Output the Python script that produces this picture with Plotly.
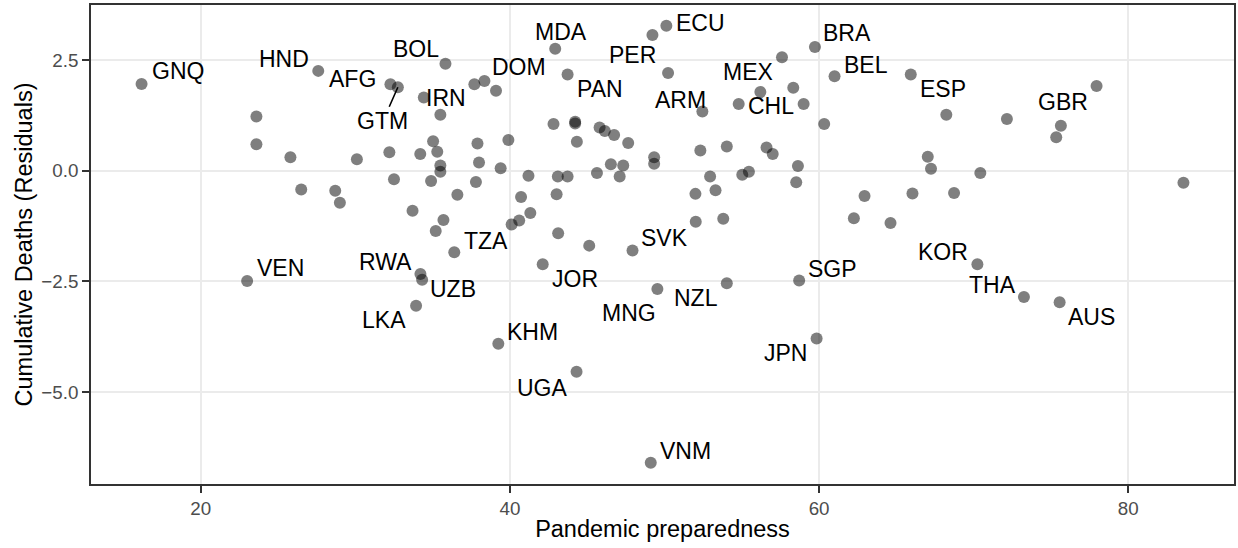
import plotly.graph_objects as go

# ---- data ----
label_codes = ["GNQ", "HND", "AFG", "GTM", "BOL", "IRN", "TZA", "DOM", "MDA", "PAN",
               "PER", "ECU", "ARM", "MEX", "CHL", "BRA", "BEL", "ESP", "GBR", "VEN",
               "RWA", "UZB", "LKA", "JOR", "MNG", "NZL", "SGP", "KHM", "UGA", "JPN",
               "VNM", "SVK", "KOR", "THA", "AUS"]
label_prep = [16.17, 27.60, 32.27, 32.75, 35.83, 34.43, 36.40, 39.10, 42.93, 43.73,
              49.22, 50.12, 52.45, 57.60, 54.80, 59.73, 61.00, 65.93, 77.95, 23.00,
              34.21, 34.32, 33.93, 42.12, 49.54, 54.03, 58.71, 39.25, 44.31, 59.84,
              49.11, 47.93, 70.24, 73.25, 75.56]
label_resid = [1.965, 2.26, 1.96, 1.89, 2.42, 1.66, -1.84, 1.81, 2.76, 2.18,
               3.07, 3.28, 1.34, 2.57, 1.51, 2.80, 2.14, 2.18, 1.92, -2.49,
               -2.33, -2.46, -3.05, -2.11, -2.67, -2.54, -2.48, -3.91, -4.54, -3.79,
               -6.60, -1.80, -2.11, -2.85, -2.97]

other_prep = [23.6, 23.6, 25.8, 30.1, 32.2, 34.2, 35.03, 35.3, 35.5, 35.5, 34.9, 32.5,
              26.5, 28.7, 29.0, 36.6, 33.7, 35.7, 35.2, 35.5,
              37.7, 38.35, 50.23, 56.2, 58.33, 59.0, 60.33, 42.82, 44.22, 44.22, 44.33,
              45.8, 46.14, 46.74, 47.65, 37.9, 39.9, 38.0, 39.4, 37.8, 41.2, 43.1,
              43.73, 45.63, 46.53, 47.33, 47.1, 49.33, 49.33, 52.32, 54.03, 56.6, 57.0,
              58.63, 58.52, 52.95, 52.0, 53.3, 55.03, 55.46, 40.72, 43.02, 41.32, 40.6,
              40.11, 43.12, 45.13, 52.02, 53.8,
              68.23, 72.15, 75.64, 75.34, 67.03, 67.24, 70.43, 83.57, 62.94, 66.04,
              68.73, 62.25, 64.62]
other_resid = [1.23, 0.60, 0.31, 0.26, 0.42, 0.38, 0.67, 0.43, 0.12, -0.02, -0.23, -0.19,
               -0.42, -0.45, -0.72, -0.54, -0.90, -1.11, -1.36, 1.27,
               1.96, 2.03, 2.21, 1.78, 1.88, 1.51, 1.06, 1.06, 1.11, 1.07, 0.66,
               0.98, 0.90, 0.81, 0.63, 0.62, 0.70, 0.19, 0.06, -0.25, -0.11, -0.13,
               -0.13, -0.05, 0.15, 0.12, -0.13, 0.31, 0.16, 0.46, 0.55, 0.53, 0.38,
               0.11, -0.26, -0.13, -0.52, -0.44, -0.09, -0.02, -0.59, -0.53, -0.95, -1.12,
               -1.21, -1.41, -1.69, -1.15, -1.08,
               1.27, 1.17, 1.02, 0.76, 0.32, 0.05, -0.05, -0.27, -0.57, -0.51,
               -0.50, -1.07, -1.18]

x_ticks = [20, 40, 60, 80]
y_ticks = [2.5, 0.0, -2.5, -5.0]
y_tick_text = ["2.5", "0.0", "\u22122.5", "\u22125.0"]

# ---- label placement (pixel offsets of label centre from point; dy positive = down) ----
label_offsets = {
    "GNQ": (36, -14), "HND": (-34, -13), "AFG": (-38, -6), "GTM": (-15, 33),
    "BOL": (-29, -16), "IRN": (22, 0), "TZA": (32, -12), "DOM": (23, -25),
    "MDA": (6, -18), "PAN": (32, 14), "PER": (-20, 19), "ECU": (34, -4),
    "ARM": (-22, -13), "MEX": (-34, 14), "CHL": (32, 1), "BRA": (32, -15),
    "BEL": (31, -12), "ESP": (32, 14), "GBR": (-34, 15), "VEN": (33, -14),
    "RWA": (-35, -13), "UZB": (31, 8), "LKA": (-32, 13), "JOR": (32, 14),
    "MNG": (-28, 23), "NZL": (-31, 14), "SGP": (33, -13), "KHM": (34, -13),
    "UGA": (-34, 15), "JPN": (-31, 13), "VNM": (35, -13), "SVK": (32, -13),
    "KOR": (-34, -13), "THA": (-31, -13), "AUS": (32, 14),
}
segment_labels = {"GTM"}

FONT = "Liberation Sans, Arial, Helvetica, sans-serif"
LABEL_SIZE = 23
VCORR = 1  # small correction: visual cap-height centre vs. text box centre

fig = go.Figure()
fig.add_trace(go.Scatter(
    x=other_prep + label_prep, y=other_resid + label_resid,
    mode="markers",
    marker=dict(size=12, color="rgba(0,0,0,0.5)", line=dict(width=0)),
    hoverinfo="skip", showlegend=False,
))

annotations = []
for code, xv, yv in zip(label_codes, label_prep, label_resid):
    dx, dy = label_offsets[code]
    if code in segment_labels:
        annotations.append(dict(
            x=xv, y=yv, xref="x", yref="y", text=code, showarrow=True,
            arrowhead=0, arrowwidth=1.6, arrowcolor="black", ax=dx, ay=dy + VCORR,
            standoff=0, startstandoff=0,
            font=dict(family=FONT, size=LABEL_SIZE, color="black"),
        ))
    else:
        annotations.append(dict(
            x=xv, y=yv, xref="x", yref="y", text=code, showarrow=False,
            xanchor="center", yanchor="middle", xshift=dx, yshift=-dy - VCORR,
            font=dict(family=FONT, size=LABEL_SIZE, color="black"),
        ))

axis_common = dict(
    showline=True, mirror=True, linecolor="#333333", linewidth=1.6,
    showgrid=True, gridcolor="#EBEBEB", gridwidth=1.6, zeroline=False,
    ticks="outside", ticklen=7, tickwidth=1.6, tickcolor="#333333",
    tickfont=dict(family=FONT, size=18.8, color="#4D4D4D"),
)

fig.update_layout(
    width=1238, height=548, autosize=False,
    margin=dict(l=91, r=2, t=5, b=64),
    paper_bgcolor="white", plot_bgcolor="white",
    annotations=annotations,
    xaxis=dict(
        range=[12.9, 86.84], tickvals=x_ticks, ticktext=[str(v) for v in x_ticks],
        title=dict(text="Pandemic preparedness", standoff=2,
                   font=dict(family=FONT, size=23.5, color="black")),
        **axis_common,
    ),
    yaxis=dict(
        range=[-7.078, 3.749], tickvals=y_ticks, ticktext=y_tick_text,
        title=dict(text="Cumulative Deaths (Residuals)", standoff=2,
                   font=dict(family=FONT, size=23.5, color="black")),
        **axis_common,
    ),
)

fig.write_html("out.html")
